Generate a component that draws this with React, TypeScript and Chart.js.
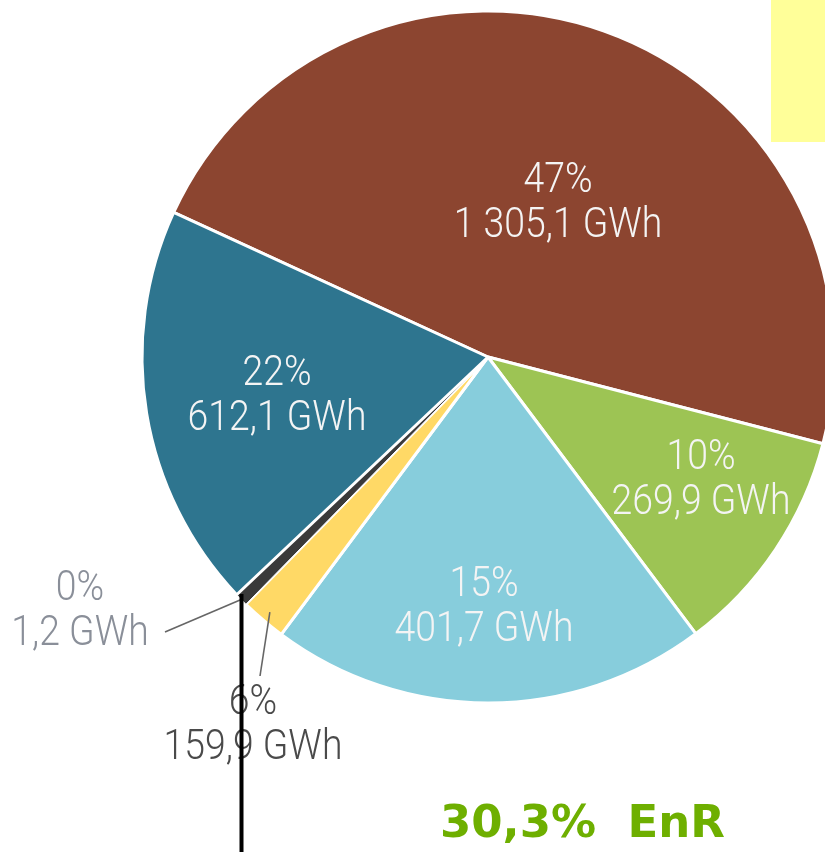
import React, { useEffect, useRef } from 'react';
import { Chart, registerables } from 'chart.js';

Chart.register(...registerables);

// Slice order (clockwise): brown, green, light blue, yellow, dark grey, teal
const sliceKeys = ['brown', 'green', 'lightblue', 'yellow', 'grey', 'teal'];
const percentLabels = ['47%', '10%', '15%', '6%', '0%', '22%'];
const energyLabels = ['1 305,1 GWh', '269,9 GWh', '401,7 GWh', '159,9 GWh', '1,2 GWh', '612,1 GWh'];
// Angular shares as drawn in the picture (percent of the full circle)
const drawnShares = [47.17, 10.72, 20.44, 2.14, 0.61, 18.92];
const enrLabel = '30,3%  EnR';

const sliceColors = ['#8C4530', '#9DC454', '#87CDDC', '#FFD966', '#3A3A3A', '#2E758F'];
const sliceBorders = [3, 3, 3, 3, 1, 3];

// label anchors (center x, middle between the two lines)
const labelAnchors: [number, number][] = [
  [558, 199],
  [701, 476],
  [484, 603],
  [253, 721],
  [80, 607],
  [277, 392],
];
const labelColors = ['#F4F4F4', '#F4F4F4', '#F4F4F4', '#4A4A4A', '#8A8F99', '#F4F4F4'];

const overlayPlugin = {
  id: 'overlay',
  beforeDraw(chart: any) {
    const ctx = chart.ctx;
    ctx.save();
    ctx.fillStyle = '#FFFF99';
    ctx.fillRect(771, 0, 129, 142);
    ctx.restore();
  },
  afterDraw(chart: any) {
    const ctx = chart.ctx;
    const meta = chart.getDatasetMeta(0);
    const arcPoint = (i: number, frac: number) => {
      const p = meta.data[i].getProps(['x', 'y', 'startAngle', 'endAngle', 'outerRadius'], true);
      const mid = (p.startAngle + p.endAngle) / 2;
      return [p.x + Math.cos(mid) * p.outerRadius * frac, p.y + Math.sin(mid) * p.outerRadius * frac];
    };
    ctx.save();
    // leader lines
    ctx.strokeStyle = '#666666';
    ctx.lineWidth = 1.6;
    const g = arcPoint(4, 1.0);
    ctx.beginPath();
    ctx.moveTo(g[0], g[1]);
    ctx.lineTo(165, 632);
    ctx.stroke();
    const y = arcPoint(3, 0.97);
    ctx.beginPath();
    ctx.moveTo(y[0], y[1]);
    ctx.lineTo(260, 676);
    ctx.stroke();

    // labels
    ctx.textAlign = 'center';
    ctx.textBaseline = 'alphabetic';
    ctx.font = '300 42px Roboto';
    percentLabels.forEach((pl, i) => {
      const [ax, ay] = labelAnchors[i];
      ctx.fillStyle = labelColors[i];
      ctx.save();
      ctx.translate(ax, ay - 7);
      ctx.scale(0.89, 1);
      ctx.fillText(pl, 0, 0);
      ctx.restore();
      ctx.save();
      ctx.translate(ax, ay + 38);
      ctx.scale(0.89, 1);
      ctx.fillText(energyLabels[i], 0, 0);
      ctx.restore();
    });

    // black vertical line
    ctx.strokeStyle = '#000000';
    ctx.lineWidth = 4;
    ctx.beginPath();
    ctx.moveTo(241.5, 594);
    ctx.lineTo(241.5, 852);
    ctx.stroke();

    // EnR text
    ctx.textAlign = 'left';
    ctx.fillStyle = '#6EAF00';
    ctx.font = 'bold 45px "DejaVu Sans"';
    ctx.fillText(enrLabel, 440, 837);
    ctx.restore();
  },
};

export default function App() {
  const ref = useRef<HTMLCanvasElement | null>(null);
  useEffect(() => {
    document.body.style.margin = '0';
    document.body.style.overflow = 'hidden';
    const chart = new Chart(ref.current as HTMLCanvasElement, {
      type: 'pie',
      data: {
        labels: sliceKeys,
        datasets: [
          {
            data: drawnShares,
            backgroundColor: sliceColors,
            borderColor: '#FFFFFF',
            borderWidth: sliceBorders,
            radius: 346,
          } as any,
        ],
      },
      options: {
        animation: false,
        responsive: false,
        devicePixelRatio: 1,
        rotation: 294.7,
        layout: { padding: { left: 76, right: 0, top: 0, bottom: 138 } },
        plugins: {
          legend: { display: false },
          tooltip: { enabled: false },
          title: { display: false },
        },
      },
      plugins: [overlayPlugin],
    });
    return () => chart.destroy();
  }, []);
  return (
    <div style={{ position: 'fixed', left: 0, top: 0, width: 825, height: 852, overflow: 'hidden', background: '#fff' }}>
      <canvas ref={ref} width={900} height={852} style={{ width: 900, height: 852, display: 'block' }} />
    </div>
  );
}
